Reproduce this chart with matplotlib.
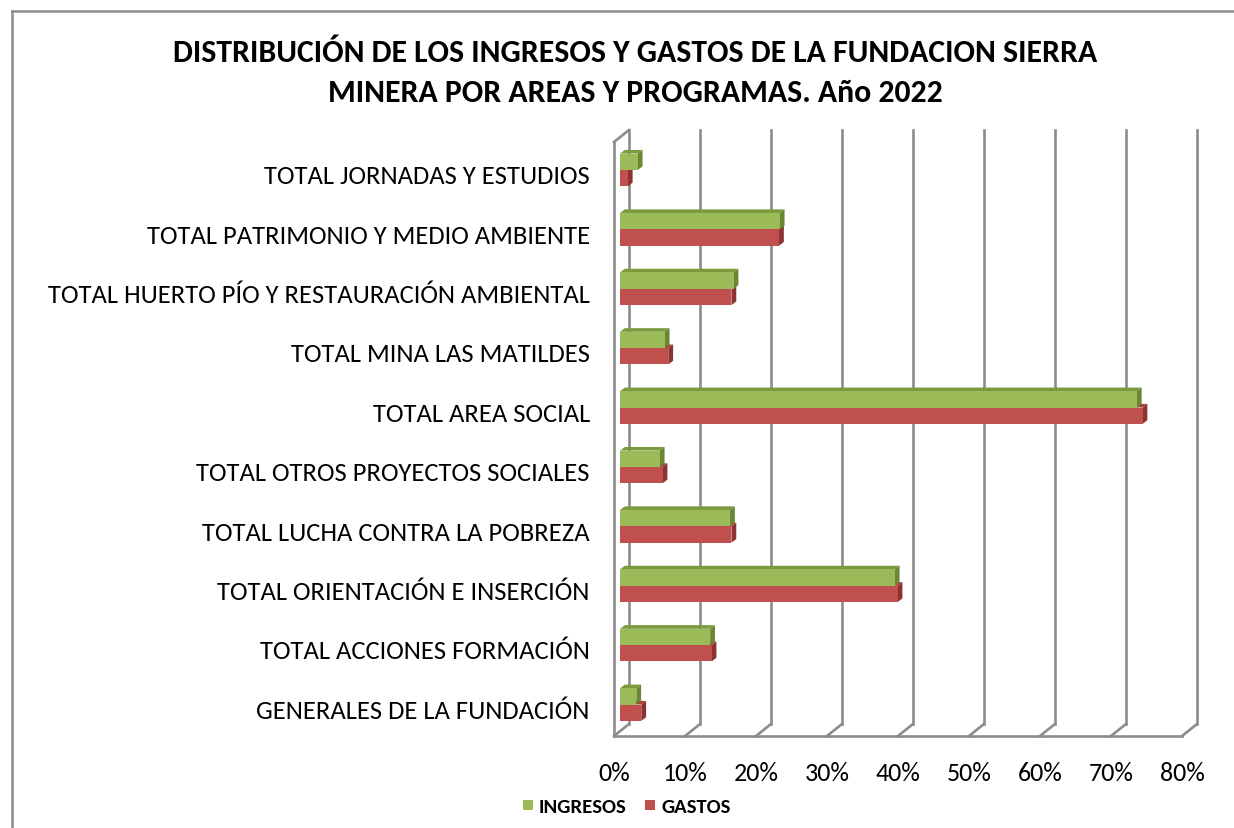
import matplotlib
matplotlib.use("Agg")
import matplotlib.pyplot as plt
from matplotlib.patches import Polygon, Rectangle
from matplotlib.lines import Line2D
from matplotlib import font_manager as fm
import matplotlib.transforms as mtrans

categories = [
    "TOTAL JORNADAS Y ESTUDIOS",
    "TOTAL PATRIMONIO Y MEDIO AMBIENTE",
    "TOTAL HUERTO PÍO Y RESTAURACIÓN AMBIENTAL",
    "TOTAL MINA LAS MATILDES",
    "TOTAL AREA SOCIAL",
    "TOTAL OTROS PROYECTOS SOCIALES",
    "TOTAL LUCHA CONTRA LA POBREZA",
    "TOTAL ORIENTACIÓN E INSERCIÓN",
    "TOTAL ACCIONES FORMACIÓN",
    "GENERALES DE LA FUNDACIÓN",
]
ingresos = [2.5, 22.5, 16.0, 6.3, 72.8, 5.6, 15.5, 38.7, 12.7, 2.3]
gastos = [1.1, 22.4, 15.7, 6.8, 73.6, 6.0, 15.7, 39.1, 12.9, 3.0]
ticks = [0, 10, 20, 30, 40, 50, 60, 70, 80]
tick_labels = [f"{t}%" for t in ticks]
series_names = ["INGRESOS", "GASTOS"]

installed = set(f.name for f in fm.fontManager.ttflist)
FONT = "Carlito" if "Carlito" in installed else "Lato"

W, H = 1234, 829
fig = plt.figure(figsize=(W / 100, H / 100), dpi=100)
fig.patch.set_facecolor("white")
renderer = fig.canvas.get_renderer()


def fit_size(text, target_px, bold=False):
    t = fig.text(0, 0, text, fontsize=20, family=FONT, fontweight="bold" if bold else "normal")
    w = t.get_window_extent(renderer).width
    t.remove()
    return 20 * target_px / w


lab_fs = fit_size("TOTAL HUERTO PÍO Y RESTAURACIÓN AMBIENTAL", 542)
tick_fs = fit_size("80%", 45)
title_fs = fit_size("DISTRIBUCIÓN DE LOS INGRESOS Y GASTOS DE LA FUNDACION SIERRA", 926, bold=True)
leg_fs = fit_size("INGRESOS", 88, bold=True)

# front plane of the plot area in pixels
x0p, x1p = 614, 1182
yb, yt = 737, 143
ax = fig.add_axes([x0p / W, 1 - yb / H, (x1p - x0p) / W, (yb - yt) / H])
ax.set_xlim(0, 80)
n = len(categories)
ax.set_ylim(-0.5, n - 0.5)
ax.axis("off")

px_x = (x1p - x0p) / 80.0
px_y = (yb - yt) / n
DX = 15 / px_x      # depth offset in data units
DY = 12 / px_y

grid_c = "#8c8c8c"
lw = 1.9
for t in ticks:
    ax.add_line(Line2D([t + DX, t + DX], [-0.5 + DY, n - 0.5 + DY], color=grid_c, lw=lw, clip_on=False, zorder=1))
    ax.add_line(Line2D([t, t + DX], [-0.5, -0.5 + DY], color=grid_c, lw=lw, clip_on=False, zorder=1))
ax.add_line(Line2D([0, 80], [-0.5, -0.5], color=grid_c, lw=lw, clip_on=False, zorder=1))
ax.add_line(Line2D([0, 0], [-0.5, n - 0.5], color=grid_c, lw=lw, clip_on=False, zorder=1))
ax.add_line(Line2D([0, DX], [n - 0.5, n - 0.5 + DY], color=grid_c, lw=lw, clip_on=False, zorder=1))

d0, d1 = 0.4, 0.72
ox0, ox1 = d0 * DX, d1 * DX
oy0 = 0.15 * DY
oy1 = oy0 + 0.3 * DY
bh = 0.275

colors = {
    "INGRESOS": ("#9bbb59", "#7a9a3e", "#6b8734"),
    "GASTOS": ("#c0504d", "#a43f3c", "#8c3230"),
}

for i, cat in enumerate(categories):
    yc = n - 1 - i
    for name, vals, ylo in (("GASTOS", gastos, yc - bh), ("INGRESOS", ingresos, yc)):
        v = vals[i]
        face, top, side = colors[name]
        z = 3 if name == "GASTOS" else 5
        ylo2 = ylo + oy0
        yhi2 = ylo + bh + oy0
        ax.add_patch(Polygon([(ox0, yhi2), (v + ox0, yhi2), (v + ox1, ylo + bh + oy1), (ox1, ylo + bh + oy1)],
                             closed=True, facecolor=top, edgecolor="none", zorder=z, clip_on=False))
        ax.add_patch(Polygon([(v + ox0, ylo2), (v + ox0, yhi2), (v + ox1, ylo + bh + oy1), (v + ox1, ylo + oy1)],
                             closed=True, facecolor=side, edgecolor="none", zorder=z, clip_on=False))
        ax.barh(ylo2, v, height=bh, left=ox0, align="edge", color=face, edgecolor="none", zorder=z + 0.5, clip_on=False)

lab_tr = ax.transData + mtrans.ScaledTranslation(0, -0.02, fig.dpi_scale_trans)
for i, cat in enumerate(categories):
    yc = n - 1 - i
    ax.text(-3.4, yc, cat, ha="right", va="center_baseline", fontsize=lab_fs, family=FONT,
            color="#000000", clip_on=False, transform=lab_tr)

tick_tr = ax.transData + mtrans.ScaledTranslation(0, -0.35, fig.dpi_scale_trans)
for t, lab in zip(ticks, tick_labels):
    ax.text(t, -0.5, lab, ha="center", va="center_baseline", fontsize=tick_fs, family=FONT,
            transform=tick_tr, clip_on=False)

fig.text(635 / W, 1 - 73 / H,
         "DISTRIBUCIÓN DE LOS INGRESOS Y GASTOS DE LA FUNDACION SIERRA\nMINERA POR AREAS Y PROGRAMAS. Año 2022",
         ha="center", va="center", fontsize=title_fs, fontweight="bold", family=FONT, linespacing=1.5)

leg_y = 1 - 806 / H
for name, xs in (("INGRESOS", 523), ("GASTOS", 645)):
    fig.patches.append(Rectangle((xs / W, leg_y - 5 / H), 10 / W, 10 / H, transform=fig.transFigure,
                                 facecolor=colors[name][0], edgecolor="none"))
    fig.text((xs + 16) / W, leg_y, name, ha="left", va="center_baseline", fontsize=leg_fs,
             fontweight="bold", family=FONT)

fig.add_artist(Line2D([11.5 / W, 11.5 / W], [0, 1 - 11.5 / H], transform=fig.transFigure, color="#8c8c8c", lw=1.8))
fig.add_artist(Line2D([11.5 / W, 1], [1 - 11.5 / H, 1 - 11.5 / H], transform=fig.transFigure, color="#8c8c8c", lw=1.8))

fig.savefig("out.png", dpi=100, facecolor="white")
